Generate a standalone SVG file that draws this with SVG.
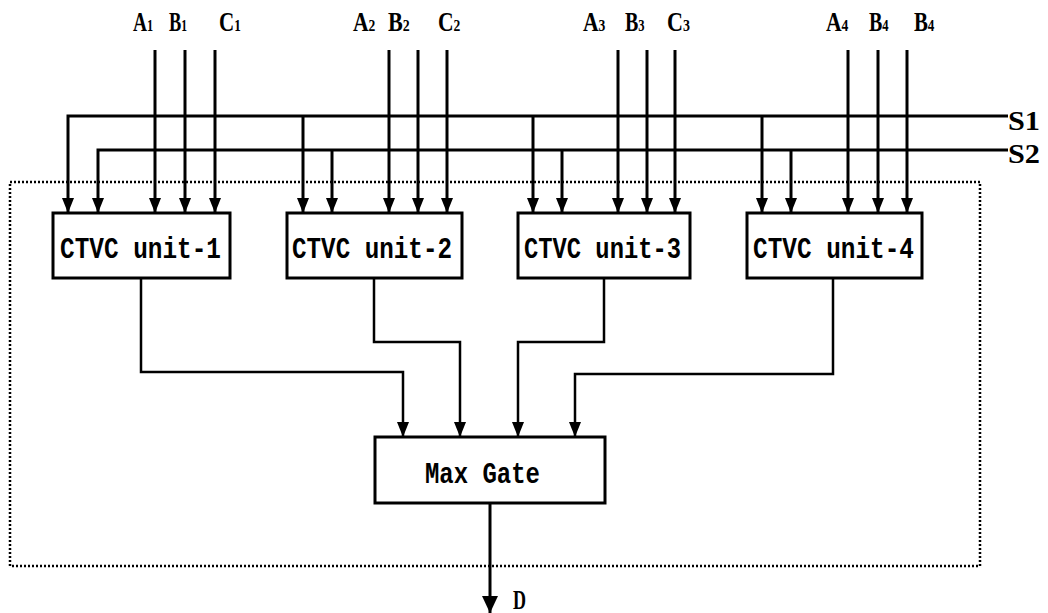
<svg xmlns="http://www.w3.org/2000/svg" width="1048" height="613" viewBox="0 0 1048 613">
<style>
.bg{fill:#fff}
.box{fill:#fff;stroke:#000;stroke-width:3}
.dot{fill:none;stroke:#000;stroke-width:2.5;stroke-dasharray:2 2}
.w{fill:none;stroke:#000;stroke-width:3}
.o{fill:none;stroke:#000;stroke-width:2.5}
.lab{font-family:"Liberation Serif",serif;font-weight:bold;font-size:27px;fill:#000}
.sub{font-size:17px}
.mono{font-family:"Liberation Mono",monospace;font-weight:bold;font-size:30px;fill:#000}
</style>
<defs>
<marker id="ah" viewBox="0 0 15 12" refX="15" refY="6" markerWidth="15" markerHeight="12" markerUnits="userSpaceOnUse" orient="auto">
<path d="M0,0 L15,6 L0,12 z" fill="#000"/>
</marker>
<marker id="ahd" viewBox="0 0 17 16" refX="17" refY="8" markerWidth="17" markerHeight="16" markerUnits="userSpaceOnUse" orient="auto">
<path d="M0,0 L17,8 L0,16 z" fill="#000"/>
</marker>
</defs>
<rect class="bg" x="0" y="0" width="1048" height="613"/>
<rect id="boundary" class="dot" x="10" y="182" width="970" height="384"/>

<g id="connectors">
<g class="w" marker-end="url(#ah)">
<path d="M155,50 V213"/><path d="M185,50 V213"/><path d="M215,50 V213"/>
<path d="M389,50 V213"/><path d="M418,50 V213"/><path d="M447,50 V213"/>
<path d="M618,50 V213"/><path d="M647,50 V213"/><path d="M675,50 V213"/>
<path d="M848,50 V213"/><path d="M878,50 V213"/><path d="M907,50 V213"/>
<path d="M1008,116 H68 V213"/>
<path d="M303,116 V213"/><path d="M533,116 V213"/><path d="M762,116 V213"/>
<path d="M1008,150 H98 V213"/>
<path d="M332,150 V213"/><path d="M562,150 V213"/><path d="M791,150 V213"/>
</g>
<g class="o" marker-end="url(#ah)">
<path d="M141,278 V372 H403 V437"/>
<path d="M374,278 V342 H460 V437"/>
<path d="M604,278 V342 H518 V437"/>
<path d="M833,278 V374 H575 V437"/>
</g>
<path class="w" d="M490,503 V613" marker-end="url(#ahd)"/>
</g>

<g id="labels">
<text class="lab" transform="translate(133,31) scale(0.72,1)">A<tspan class="sub">1</tspan></text>
<text class="lab" transform="translate(169,31) scale(0.68,1)">B<tspan class="sub">1</tspan></text>
<text class="lab" transform="translate(219,31) scale(0.78,1)">C<tspan class="sub">1</tspan></text>
<text class="lab" transform="translate(353,31) scale(0.8,1)">A<tspan class="sub">2</tspan></text>
<text class="lab" transform="translate(388,31) scale(0.82,1)">B<tspan class="sub">2</tspan></text>
<text class="lab" transform="translate(438,31) scale(0.8,1)">C<tspan class="sub">2</tspan></text>
<text class="lab" transform="translate(583,31) scale(0.8,1)">A<tspan class="sub">3</tspan></text>
<text class="lab" transform="translate(625,31) scale(0.74,1)">B<tspan class="sub">3</tspan></text>
<text class="lab" transform="translate(667,31) scale(0.82,1)">C<tspan class="sub">3</tspan></text>
<text class="lab" transform="translate(826,31) scale(0.8,1)">A<tspan class="sub">4</tspan></text>
<text class="lab" transform="translate(869,31) scale(0.74,1)">B<tspan class="sub">4</tspan></text>
<text class="lab" transform="translate(914,31) scale(0.77,1)">B<tspan class="sub">4</tspan></text>
<text class="lab" x="1008" y="130" font-size="30" textLength="32" lengthAdjust="spacingAndGlyphs">S1</text>
<text class="lab" x="1008" y="163" font-size="30" textLength="32" lengthAdjust="spacingAndGlyphs">S2</text>
<text class="lab" x="513" y="609" font-size="26" textLength="13" lengthAdjust="spacingAndGlyphs">D</text>
</g>

<g id="unit1"><rect class="box" x="53" y="213" width="177" height="65"/><text class="mono" x="60" y="258" textLength="161" lengthAdjust="spacingAndGlyphs">CTVC unit-1</text></g>
<g id="unit2"><rect class="box" x="287" y="213" width="175" height="65"/><text class="mono" x="292" y="258" textLength="160" lengthAdjust="spacingAndGlyphs">CTVC unit-2</text></g>
<g id="unit3"><rect class="box" x="518" y="213" width="172" height="65"/><text class="mono" x="524" y="258" textLength="157" lengthAdjust="spacingAndGlyphs">CTVC unit-3</text></g>
<g id="unit4"><rect class="box" x="747" y="213" width="175" height="65"/><text class="mono" x="753" y="258" textLength="161" lengthAdjust="spacingAndGlyphs">CTVC unit-4</text></g>
<g id="maxgate"><rect class="box" x="375" y="437" width="230" height="66"/><text class="mono" x="425" y="483" textLength="115" lengthAdjust="spacingAndGlyphs">Max Gate</text></g>
</svg>
